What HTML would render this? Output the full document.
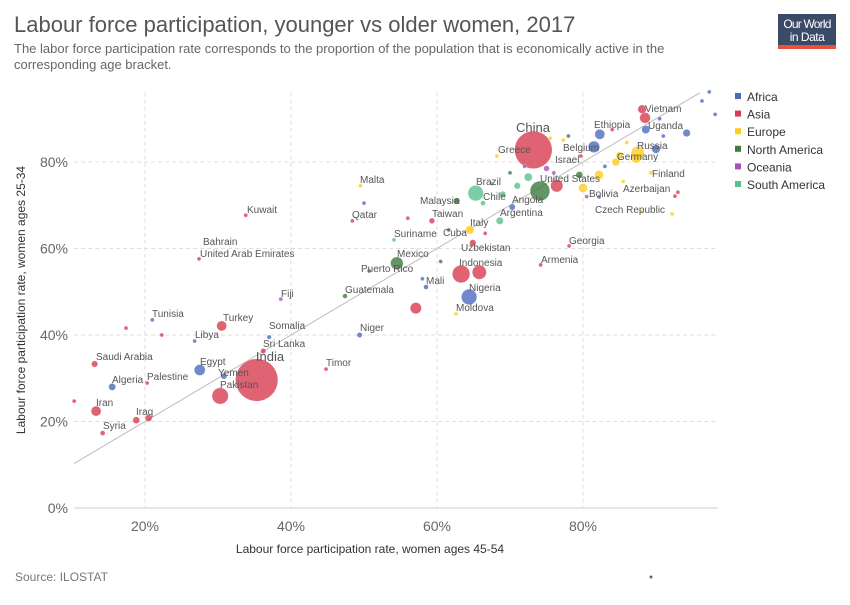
<!DOCTYPE html>
<html><head><meta charset="utf-8"><style>
body{margin:0;background:#fff;font-family:"Liberation Sans",sans-serif}
svg text{font-family:"Liberation Sans",sans-serif}
.lbl{font-size:10px;fill:#555}
</style></head><body>
<svg id="chart" width="850" height="600" xmlns="http://www.w3.org/2000/svg">
<text x="14" y="32" font-size="22" fill="#555">Labour force participation, younger vs older women, 2017</text>
<text x="14" y="53" font-size="13" fill="#666">The labor force participation rate corresponds to the proportion of the population that is economically active in the</text>
<text x="14" y="69" font-size="13" fill="#666">corresponding age bracket.</text>
<g>
<rect x="778" y="14" width="58" height="33" fill="#3b4a66"/>
<rect x="778" y="45" width="58" height="4" fill="#e8523a"/>
<text x="807" y="28" font-size="12" fill="#fff" text-anchor="middle" letter-spacing="-0.8">Our World</text>
<text x="807" y="41" font-size="12" fill="#fff" text-anchor="middle" letter-spacing="-0.5">in Data</text>
</g>
<g id="grid"></g>
<g id="axes"></g>
<line id="diag" stroke="#bbb" stroke-width="1"/>
<g id="points"></g>
<g class="lbl">
<text x="533" y="132" style="font-size:13px" text-anchor="middle">China</text>
<text x="270" y="361" style="font-size:13px" text-anchor="middle">India</text>
<text x="645" y="112">Vietnam</text><text x="594" y="128">Ethiopia</text><text x="648" y="129">Uganda</text>
<text x="498" y="153">Greece</text><text x="563" y="151">Belgium</text><text x="637" y="149">Russia</text>
<text x="555" y="163">Israel</text><text x="617" y="160">Germany</text><text x="540" y="182">United States</text>
<text x="652" y="177">Finland</text><text x="623" y="192">Azerbaijan</text><text x="476" y="185">Brazil</text>
<text x="483" y="200">Chile</text><text x="512" y="203">Angola</text><text x="589" y="197">Bolivia</text>
<text x="500" y="216">Argentina</text><text x="595" y="213">Czech Republic</text><text x="360" y="183">Malta</text>
<text x="420" y="204">Malaysia</text><text x="352" y="218">Qatar</text><text x="432" y="217">Taiwan</text>
<text x="247" y="213">Kuwait</text><text x="470" y="226">Italy</text><text x="443" y="236">Cuba</text>
<text x="394" y="237">Suriname</text><text x="569" y="244">Georgia</text><text x="461" y="251">Uzbekistan</text>
<text x="397" y="257">Mexico</text><text x="541" y="263">Armenia</text><text x="459" y="266">Indonesia</text>
<text x="361" y="272">Puerto Rico</text><text x="203" y="245">Bahrain</text><text x="200" y="257">United Arab Emirates</text>
<text x="345" y="293">Guatemala</text><text x="469" y="291">Nigeria</text><text x="281" y="297">Fiji</text>
<text x="426" y="284">Mali</text><text x="456" y="311">Moldova</text><text x="152" y="317">Tunisia</text>
<text x="223" y="321">Turkey</text><text x="269" y="329">Somalia</text><text x="195" y="338">Libya</text>
<text x="360" y="331">Niger</text><text x="263" y="347">Sri Lanka</text><text x="96" y="360">Saudi Arabia</text>
<text x="200" y="365">Egypt</text><text x="326" y="366">Timor</text><text x="218" y="376">Yemen</text>
<text x="147" y="380">Palestine</text><text x="112" y="383">Algeria</text><text x="220" y="388">Pakistan</text>
<text x="96" y="406">Iran</text><text x="136" y="415">Iraq</text><text x="103" y="429">Syria</text>
</g>
<g id="legend"></g>
<text x="370" y="553" font-size="12" fill="#333" text-anchor="middle">Labour force participation rate, women ages 45-54</text>
<text transform="translate(25,300) rotate(-90)" font-size="12" fill="#333" text-anchor="middle">Labour force participation rate, women ages 25-34</text>
<text x="15" y="581" font-size="12" fill="#777">Source: ILOSTAT</text>
<circle cx="651" cy="577" r="1.5" fill="#666"/>
</svg>
<script>
const continents=["Africa","Asia","Europe","North America","Oceania","South America"];
const colors=["#4c6bbf","#d73c50","#fcce1e","#3e7b3e","#a652ba","#5ac18e"];
const xTicks=[0,20,40,60,80];
const yTicks=[0,20,40,60,80];
const countries=["China","India","Pakistan","Indonesia","Bangladesh","United States","Nigeria","Brazil","Mexico","Egypt","Iran","Turkey","Vietnam","Vietnam2","Ethiopia","Germany","Russia","Philippines","Japan","Algeria","Saudi Arabia","Syria","Iraq","Iraq2","Tunisia","Libya","Somalia","Sri Lanka","Yemen","Palestine","Kuwait","UAE","Fiji","Timor","Niger","Guatemala","Puerto Rico","Mali","Moldova","Armenia","Georgia","Uzbekistan","Cuba","Suriname","Italy","ItalyR","Argentina","Taiwan","Malaysia","Qatar","Malta","Chile","Angola","Greece","Belgium","Israel","Finland","Azerbaijan","Czech Republic","Bolivia","France","UK","Uganda","TR1","TR2","TR3","L1","L2","L3","DR Congo","Tanzania","Kenya","Spain","Poland","Canada","Colombia","Peru","Venezuela","Australia","PNG","S1","S2","S3","S4","S5","S6","S7","S8","S9","S10","S11","S12","S13","S14","S15","S16","S17","S18"];
const xValues=[73.2,35.3,30.3,63.3,65.8,74.1,64.4,65.3,54.5,27.5,13.3,30.5,88.5,88.1,81.5,87.3,87.5,57.1,76.4,15.5,13.1,14.2,18.8,20.5,21.0,26.8,37.0,36.2,30.8,20.3,33.8,27.4,38.6,44.8,49.4,47.4,50.7,58.5,62.6,74.2,78.1,64.9,61.6,54.1,64.5,66.6,68.6,59.3,62.7,48.4,49.5,66.3,70.3,68.2,77.3,79.7,89.3,92.6,92.2,82.2,80.0,82.2,94.2,97.3,96.3,98.1,10.3,17.4,22.3,82.3,90.0,88.6,84.5,85.0,79.5,72.5,71.0,69.0,75.0,76.0,83.0,86.0,91.0,93.0,78.0,80.5,85.5,88.0,60.5,58.0,56.0,50.0,67.5,70.0,72.0,75.5,84.0,90.5];
const yValues=[82.8,29.6,25.9,54.1,54.5,73.3,48.8,72.8,56.6,31.9,22.4,42.1,90.2,92.2,83.5,80.9,82.1,46.2,74.5,28.0,33.3,17.3,20.3,20.8,43.5,38.6,39.5,36.3,30.5,28.9,67.7,57.6,48.3,32.1,40.0,49.0,54.8,51.1,44.9,56.2,60.6,61.3,64.3,62.0,64.3,63.5,66.4,66.4,71.0,66.4,74.5,70.5,69.6,81.4,85.1,81.4,77.5,72.1,68.0,71.9,74.0,77.0,86.7,96.2,94.1,91.0,24.7,41.6,40.0,86.4,83.0,87.5,80.0,81.5,77.0,76.5,74.5,72.5,78.5,77.5,79.0,84.5,86.0,73.0,86.0,72.0,75.5,68.5,57.0,53.0,67.0,70.5,75.0,77.5,79.0,85.5,87.5,90.0];
const population=[1050,1340,200,230,150,290,180,180,120,90,75,75,85,55,100,75,130,95,115,38,30,18,35,35,11,6,14,21,28,5,4,9,1,1,21,17,3,18,3,3,4,32,11,1,55,10,40,24,31,3,1,18,29,11,11,9,5,10,11,11,60,60,42,2,2,2,2,2,2,75,55,50,46,38,36,49,32,31,25,8,12,5,3,2,6,4,9,7,2,3,4,1,6,4,3,5,8,2];
const contIdx=[1,1,1,1,1,3,0,5,3,0,1,1,1,1,0,2,2,1,1,0,1,1,1,1,0,0,0,1,0,1,1,1,4,1,0,3,3,0,2,1,1,1,3,5,2,1,5,1,3,1,2,5,0,2,2,1,2,1,2,0,2,2,0,0,0,0,1,1,1,0,0,0,2,2,3,5,5,5,4,4,0,2,0,1,3,4,2,2,3,0,1,0,5,3,4,2,1,0];

const X0=-1,XS=7.3,Y0=508,YS=4.325;
const sx=v=>X0+v*XS, sy=v=>Y0-v*YS;
const NS="http://www.w3.org/2000/svg";
function mk(tag,attrs,parent){const e=document.createElementNS(NS,tag);for(const k in attrs)e.setAttribute(k,attrs[k]);parent.appendChild(e);return e;}
const grid=document.getElementById('grid'),axes=document.getElementById('axes');
const xMin=10.3,xMax=98.5,yMax=96;
yTicks.forEach(t=>{
  const l=mk('line',{x1:sx(xMin),x2:sx(xMax),y1:sy(t),y2:sy(t),stroke:t===0?'#ccc':'#ddd','stroke-dasharray':t===0?'':'4,3'},grid);
  
  
  const tx=mk('text',{x:68,y:sy(t)+5,'font-size':14,fill:'#666','text-anchor':'end'},axes);
  tx.textContent=t+'%';
  
  
});
xTicks.filter(t=>t>=xMin).forEach(t=>{
  const l=mk('line',{x1:sx(t),x2:sx(t),y1:sy(yMax),y2:sy(0),stroke:'#ddd','stroke-dasharray':'4,3'},grid);
  
  
  const tx=mk('text',{x:sx(t),y:531,'font-size':14,fill:'#666','text-anchor':'middle'},axes);
  tx.textContent=t+'%';
  
  
});
const d=document.getElementById('diag');
d.setAttribute('x1',sx(xMin));d.setAttribute('y1',sy(xMin));d.setAttribute('x2',sx(yMax));d.setAttribute('y2',sy(yMax));
const pts=document.getElementById('points');
const order=population.map((p,i)=>i).sort((a,b)=>population[b]-population[a]);
order.forEach(i=>{
  const r=Math.max(2,Math.sqrt(population[i])*0.58);
  const c=mk('circle',{cx:sx(xValues[i]),cy:sy(yValues[i]),r:r,fill:colors[contIdx[i]],'fill-opacity':0.8,stroke:'#fff','stroke-width':0.3},pts);
  
  
});
const lg=document.getElementById('legend');
continents.forEach((n,i)=>{
  const g=mk('g',{},lg);
  
  
  mk('rect',{x:735,y:93+i*17.6,width:6,height:6,fill:colors[i]},g);
  const t=mk('text',{x:747,y:101+i*17.6,'font-size':12,fill:'#333'},g);
  t.textContent=n;
});
</script>
</body></html>
